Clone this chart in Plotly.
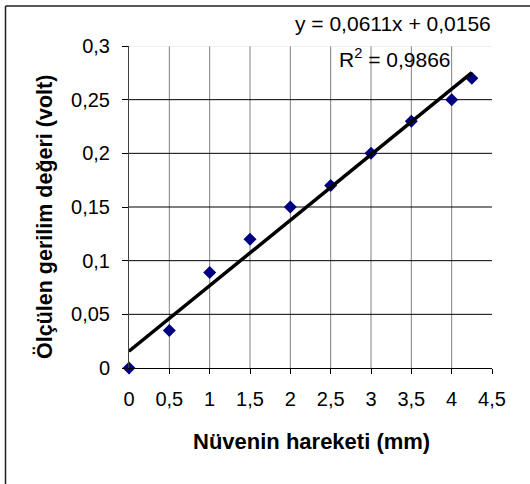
import plotly.graph_objects as go

# ---- data ----
x_mm = [0, 0.5, 1, 1.5, 2, 2.5, 3, 3.5, 4, 4.25]
y_volt = [0, 0.035, 0.089, 0.12, 0.15, 0.17, 0.2, 0.23, 0.25, 0.27]
slope = 0.0611
intercept = 0.0156
r2 = "0,9866"
x_ticks = [0, 0.5, 1, 1.5, 2, 2.5, 3, 3.5, 4, 4.5]
y_ticks = [0, 0.05, 0.1, 0.15, 0.2, 0.25, 0.3]

FONT = "Liberation Sans, Arial, sans-serif"
W, H = 530, 484
L, R, T, B = 129, 38, 46, 116
PW, PH = W - L - R, H - T - B

def px_x(p):
    return (p - L) / PW

def px_y(p):
    return (H - B - p) / PH

trend_x = [min(x_mm), max(x_mm)]
trend_y = [slope * v + intercept for v in trend_x]

fig = go.Figure()
fig.add_trace(go.Scatter(x=x_mm, y=y_volt, mode="markers",
                         marker=dict(symbol="diamond", size=10, color="#000080"),
                         showlegend=False, cliponaxis=False))
fig.add_trace(go.Scatter(x=trend_x, y=trend_y, mode="lines",
                         line=dict(color="black", width=3.5),
                         showlegend=False))

shapes = []
# vertical grid lines (gray)
for v in x_ticks[1:-1]:
    shapes.append(dict(type="line", xref="x", yref="y", x0=v, x1=v, y0=0, y1=max(y_ticks),
                       line=dict(color="#808080", width=1), layer="below"))
# horizontal grid lines (black, top one light)
for v in y_ticks[1:]:
    col = "#e0e0e0" if v == max(y_ticks) else "black"
    shapes.append(dict(type="line", xref="x", yref="y", x0=0, x1=max(x_ticks), y0=v, y1=v,
                       line=dict(color=col, width=1), layer="below"))
# outer frame (left and top edges visible)
shapes.append(dict(type="line", xref="paper", yref="paper",
                   x0=px_x(5.5), x1=px_x(5.5), y0=px_y(490), y1=px_y(6),
                   line=dict(color="#202020", width=1.5)))
shapes.append(dict(type="line", xref="paper", yref="paper",
                   x0=px_x(5.5), x1=px_x(540), y0=px_y(6), y1=px_y(6),
                   line=dict(color="#202020", width=1.5)))

annotations = [
    dict(text="y = 0,0611x + 0,0156", xref="paper", yref="paper",
         x=px_x(493), y=px_y(24), xanchor="right", yanchor="middle",
         showarrow=False, font=dict(family=FONT, size=21, color="black")),
    dict(text="R<sup>2</sup> = " + r2, xref="paper", yref="paper",
         x=px_x(337), y=px_y(58), xanchor="left", yanchor="middle",
         showarrow=False, font=dict(family=FONT, size=21, color="black")),
    dict(text="<b>Ölçülen gerilim değeri (volt)</b>", xref="paper", yref="paper",
         x=px_x(45), y=px_y(217), xanchor="center", yanchor="middle", textangle=-90,
         showarrow=False, font=dict(family=FONT, size=21.5, color="black")),
    dict(text="<b>Nüvenin hareketi (mm)</b>", xref="paper", yref="paper",
         x=px_x(311), y=px_y(442), xanchor="center", yanchor="middle",
         showarrow=False, font=dict(family=FONT, size=22, color="black")),
]

fig.update_layout(
    width=W, height=H,
    margin=dict(l=L, r=R, t=T, b=B, pad=0),
    paper_bgcolor="white", plot_bgcolor="white",
    separators=", ",
    shapes=shapes, annotations=annotations,
    font=dict(family=FONT, size=20, color="black"),
    xaxis=dict(range=[0, 4.5], tickvals=x_ticks, showgrid=False, zeroline=False,
               showline=True, linecolor="black", linewidth=1,
               ticks="outside", ticklen=5, tickcolor="black",
               tickfont=dict(family=FONT, size=20), ticklabelstandoff=8),
    yaxis=dict(range=[0, 0.3], tickvals=y_ticks, showgrid=False, zeroline=False,
               showline=True, linecolor="#404040", linewidth=1,
               ticks="outside", ticklen=6, tickcolor="black",
               tickfont=dict(family=FONT, size=20), ticklabelstandoff=8),
)

fig.write_html("out.html")
